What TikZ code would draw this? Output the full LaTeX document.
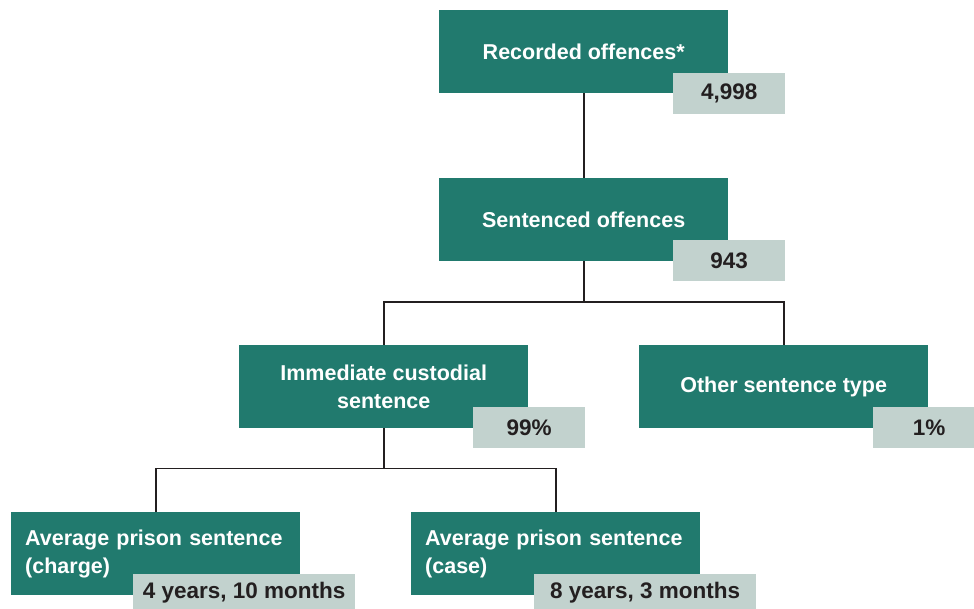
\documentclass[tikz,border=0pt]{standalone}
\usepackage{fontspec}
\setmainfont{Liberation Sans}
\definecolor{boxgreen}{HTML}{217A6E}
\definecolor{boxgrey}{HTML}{C2D2CE}
\definecolor{inkdark}{HTML}{231F20}

\begin{document}
\begin{tikzpicture}[x=1pt, y=-1pt,
    greenbox/.style={fill=boxgreen, text=white, font=\bfseries\fontsize{21.5}{28}\selectfont,
      minimum width=289pt, minimum height=83pt, inner sep=0pt, align=center, anchor=north west},
    leftbox/.style={greenbox, text width=261pt, align=left},
    greybox/.style={fill=boxgrey, text=inkdark, font=\bfseries\fontsize{22.5}{26}\selectfont,
      minimum width=112pt, minimum height=41pt, inner sep=0pt, anchor=north west},
    link/.style={draw=inkdark, line width=1.8pt}]
      \useasboundingbox (0,0) rectangle (974,609);

      % boxes
      \node[greenbox] (recorded) at (439,10) {Recorded offences*};
      \node[greenbox] (sentenced) at (439,178) {Sentenced offences};
      \node[greenbox] (custodial) at (239,345) {Immediate custodial\\sentence};
      \node[greenbox] (other) at (639,345) {Other sentence type};
      \node[leftbox] (charge) at (11,512) {Average prison sentence\\(charge)};
      \node[leftbox] (case) at (411,512) {Average prison sentence\\(case)};

      % connectors
      \coordinate (split1) at ([yshift=-41pt]sentenced.south);
      \coordinate (split2) at ([yshift=-40pt]custodial.south);
      \draw[link] (recorded.south) -- (sentenced.north);
      \draw[link] (sentenced.south) -- (split1);
      \draw[link] (custodial.north) |- (split1) -| (other.north);
      \draw[link] (custodial.south) -- (split2);
      \draw[link] (charge.north) |- (split2) -| (case.north);

      % figures
      \node[greybox] (recordednum) at (673,73) {4,998};
      \node[greybox] (sentencednum) at (673,240) {943};
      \node[greybox] (custodialnum) at (473,407) {99\%};
      \node[greybox] (othernum) at (873,407) {1\%};
      \node[greybox, minimum width=222pt, minimum height=37pt] (chargenum) at (133,574) {4 years, 10 months};
      \node[greybox, minimum width=222pt, minimum height=37pt] (casenum) at (534,574) {8 years, 3 months};
\end{tikzpicture}
\end{document}
